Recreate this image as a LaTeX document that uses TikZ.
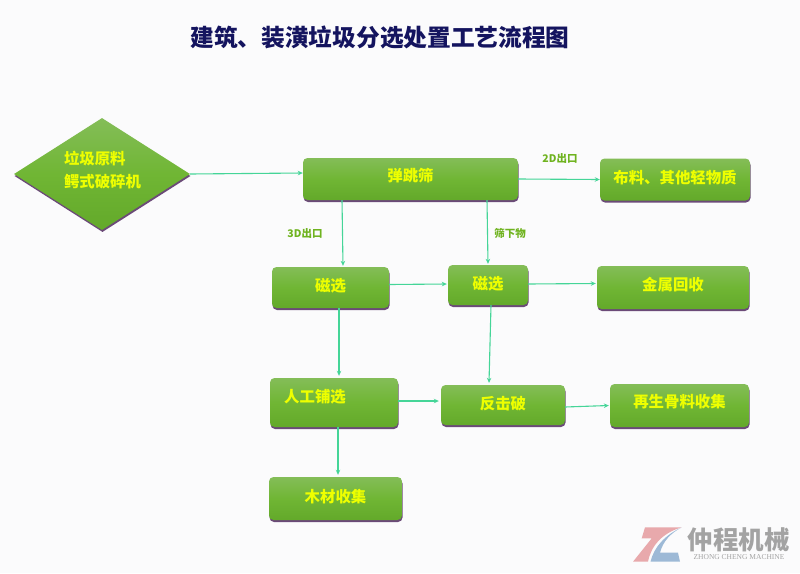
\documentclass[tikz,border=0pt]{standalone}
\usepackage{fontspec}
\usepackage{xcolor}
\usetikzlibrary{calc,shapes.geometric,shadows,arrows.meta}
\newfontfamily\cjk{Noto Sans CJK SC}
\setmainfont{Liberation Serif}
\definecolor{pagebg}{HTML}{FBFBFC}
\definecolor{titlenavy}{HTML}{14145F}
\definecolor{greentop}{HTML}{84BD58}
\definecolor{greenmid}{HTML}{70B634}
\definecolor{greenbot}{HTML}{63A92A}
\definecolor{shadowpurple}{HTML}{6B4A78}
\definecolor{boxyellow}{HTML}{EEFF00}
\definecolor{edgegreen}{HTML}{45D598}
\definecolor{notegreen}{HTML}{6FB31F}
\definecolor{logopink}{HTML}{E8A9AC}
\definecolor{logoblue}{HTML}{9DB9D6}
\definecolor{logogray}{HTML}{A3A3A3}

\begin{document}
\begin{tikzpicture}[x=1pt,y=-1pt,
  greenfill/.style={top color=greentop,bottom color=greenbot,middle color=greenmid,
    general shadow={shadow xshift=0.5pt,shadow yshift=-2pt,fill=shadowpurple}},
  stepbox/.style={greenfill,rectangle,rounded corners=4.5pt,inner sep=0pt,text depth=5pt,
    text=boxyellow,font=\cjk\bfseries\fontsize{15.4}{16}\selectfont},
  boxtext/.style={text=boxyellow,inner sep=0pt,align=left,
    font=\cjk\bfseries\fontsize{15.4}{23}\selectfont},
  note/.style={text=notegreen,inner sep=0pt,font=\cjk\bfseries\fontsize{10.5}{10}\selectfont},
  flow/.style={draw=edgegreen,line width=1.1pt,-{Stealth[length=5pt,width=4.5pt]}}]
  \useasboundingbox[fill=pagebg] (0,0) rectangle (800,573);

  \node[text=titlenavy,inner sep=0pt,font=\cjk\bfseries\fontsize{23.7}{24}\selectfont]
    (title) at (380,38) {建筑、装潢垃圾分选处置工艺流程图};

  % boxes
  \node[greenfill,diamond,aspect=1.57,inner sep=0pt,minimum width=176,minimum height=112]
    (yuanliao) at (102,174) {};
  \node[boxtext] (yuanliaotext) at (102.5,170) {垃圾原料\\鳄式破碎机};
  \node[stepbox,minimum width=215,minimum height=42,text depth=9pt] (tiaoshai) at (410.5,179) {弹跳筛};
  \node[stepbox,minimum width=150,minimum height=42] (buliao) at (675,179.5) {布料、其他轻物质};
  \node[stepbox,minimum width=117,minimum height=41] (cixuanA) at (330.5,287.5) {磁选};
  \node[stepbox,minimum width=80,minimum height=40] (cixuanB) at (488,285) {磁选};
  \node[stepbox,minimum width=152,minimum height=43,text depth=8pt] (jinshu) at (673,287.5) {金属回收};
  \node[stepbox,minimum width=128,minimum height=49] (rengong) at (334,402.5) {};
  \node[boxtext] (rengongtext) at (315,397) {人工铺选};
  \node[stepbox,minimum width=124,minimum height=40] (fanji) at (503,405) {反击破};
  \node[stepbox,minimum width=139,minimum height=43,text depth=9pt] (zaisheng) at (679.5,405.5) {再生骨料收集};
  \node[stepbox,minimum width=133,minimum height=43] (mucai) at (335.5,498.5) {木材收集};

  % labels
  \node[note] (note2d) at (560,158.5) {2D出口};
  \node[note] (note3d) at (305,234) {3D出口};
  \node[note] (notexia) at (510,233) {筛下物};

  % flow
  \draw[flow] (yuanliao.east) -- ($(tiaoshai.west)+(0,-6)$);
  \draw[flow] ($(tiaoshai.south)+(-68.5,0)$) -- ($(cixuanA.north)+(12.5,-1)$);
  \draw[flow] ($(tiaoshai.south)+(76.5,0)$) -- ($(cixuanB.north)+(0,-1)$);
  \draw[flow] (tiaoshai.east) -- (buliao.west);
  \draw[flow] ($(cixuanA.east)+(0,-3)$) -- ($(cixuanB.west)+(-1,-1)$);
  \draw[flow] ($(cixuanB.east)+(0,-1)$) -- ($(jinshu.west)+(-1,-4)$);
  \draw[flow] ($(cixuanA.south)+(8.5,0)$) -- ($(rengong.north)+(5,-2)$);
  \draw[flow] ($(cixuanB.south)+(3,0)$) -- ($(fanji.north)+(-14,-2)$);
  \draw[flow] ($(rengong.east)+(0,-1.5)$) -- ($(fanji.west)+(-2,-4)$);
  \draw[flow] ($(fanji.east)+(0,2)$) -- ($(zaisheng.west)+(-1,0)$);
  \draw[flow] ($(rengong.south)+(4,0)$) -- ($(mucai.north)+(2.5,-2)$);

  % logo
  \fill[logopink] (645,527.3) -- (681.7,527.3) .. controls (662,533) and (651,546) .. (648,561.7)
    -- (633,561.7) -- (651.7,538.3) -- (641.7,538.3) -- cycle;
  \fill[logoblue] (681.7,527.3) .. controls (665,535) and (654,547) .. (650.5,561.7)
    -- (680,561.7) -- (678,552.7) -- (660,552.7)
    .. controls (663,541) and (671,533) .. cycle;
  \node[text=logogray,inner sep=0pt,font=\cjk\bfseries\fontsize{25.5}{26}\selectfont]
    (logotext) at (738.5,540) {仲程机械};
  \node[text=logogray,inner sep=0pt,font=\fontsize{7.5}{8}\selectfont]
    (logoname) at (739,557) {ZHONG CHENG MACHINE};
\end{tikzpicture}
\end{document}
